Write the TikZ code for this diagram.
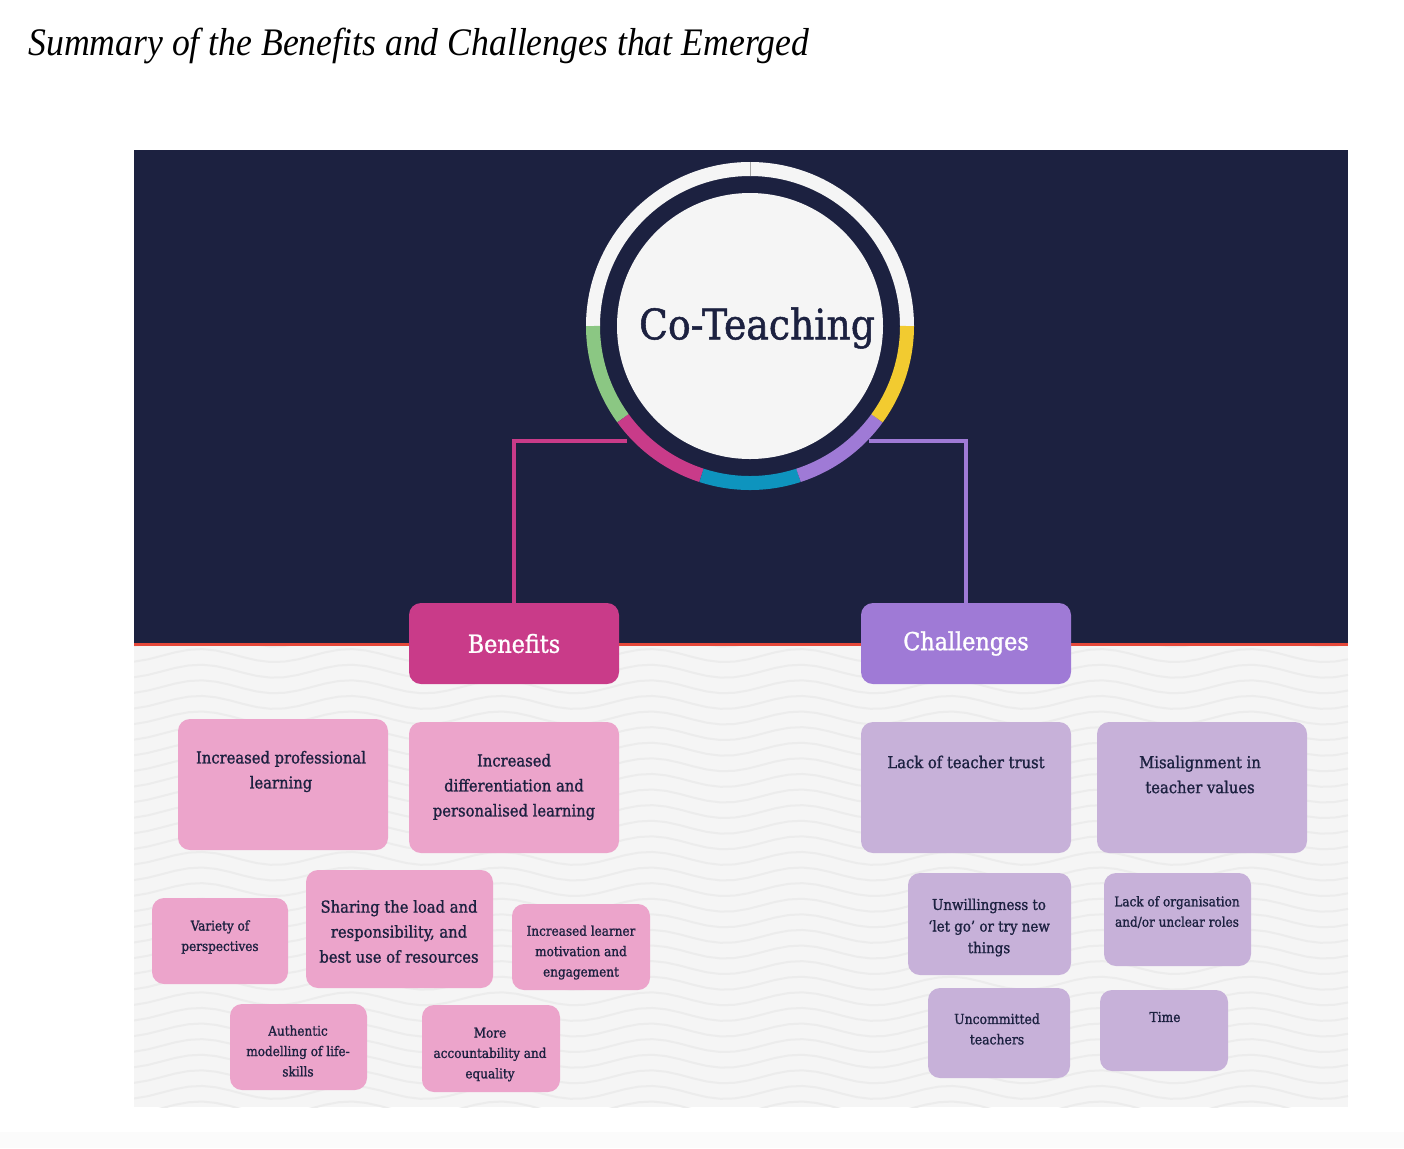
\documentclass[tikz,border=0pt]{standalone}
\usepackage{fontspec}
\newfontfamily\slab[AutoFakeBold=1.2]{DejaVu Serif Condensed}
\newfontfamily\headfont{Liberation Serif}
\definecolor{navy}{HTML}{1C2140}
\definecolor{ringw}{HTML}{F5F5F5}
\definecolor{paper}{HTML}{F5F5F5}
\definecolor{wavec}{HTML}{ECECEC}
\definecolor{foot}{HTML}{FBFBFB}
\definecolor{grn}{HTML}{8BC783}
\definecolor{mag}{HTML}{C93B89}
\definecolor{blu}{HTML}{0E94BE}
\definecolor{pur}{HTML}{9F7AD6}
\definecolor{yel}{HTML}{F2CB30}
\definecolor{redl}{HTML}{E5483A}
\definecolor{benpink}{HTML}{ECA4CB}
\definecolor{chalav}{HTML}{C7B1D9}
\tikzset{
  tile/.style={rounded corners=6pt, inner sep=0pt},
  ben/.style={tile, fill=benpink},
  cha/.style={tile, fill=chalav},
  headbox/.style={tile, minimum width=105pt, minimum height=40.5pt, text=white,
    font=\slab\bfseries\fontsize{12.4}{14}\selectfont},
  bigtxt/.style={align=center, text=navy, inner sep=0pt,
    font=\slab\bfseries\fontsize{8.2}{12.5}\selectfont},
  smtxt/.style={align=center, text=navy, inner sep=0pt,
    font=\slab\bfseries\fontsize{6.7}{10.2}\selectfont},
  ring/.style={line width=7pt},
  link/.style={line width=2pt},
  wave/.style={wavec, line width=1pt}
}
\begin{document}
\begin{tikzpicture}[x=0.5pt, y=0.5pt]
\useasboundingbox (0,0) rectangle (1404,-1148);
\fill[white] (0,0) rectangle (1404,-1148);
\fill[foot] (0,-1132) rectangle (1404,-1148);
\node[anchor=base west, inner sep=0pt, font=\headfont\itshape\fontsize{19.5}{22}\selectfont] (heading) at (28,-55)
  {\scalebox{0.915}[1]{Summary of the Benefits and Challenges that Emerged}};

% panel
\fill[navy] (134,-150) rectangle (1348,-644);
\fill[paper] (134,-644) rectangle (1348,-1107);
\begin{scope}
  \clip (134,-646) rectangle (1348,-1107);
  \foreach \k in {0,...,31}
    \draw[wave] plot[domain=134:1348, samples=90] (\x, {-640-15.6*\k+6.5*sin(2.4*\x-30)});
\end{scope}
\draw[redl, line width=1.5pt] (134,-644) -- (1348,-644);

% hub
\node[circle, fill=ringw, minimum size=133pt, inner sep=0pt] (core) at (750,-326) {};
\node[headbox, fill=mag] (ben) at (514,-643.5) {Benefits};
\node[headbox, fill=pur] (cha) at (966,-643.5) {Challenges};
\draw[link, mag] (core.center) ++(223:168) -| (ben.north);
\draw[link, pur] (core.center) ++(316:165) -| (cha.north);
\draw[ring, ringw] (core.center) ++(0:157) arc[start angle=0, end angle=180, radius=78.5pt];
\foreach \a/\c in {180/grn, 216/mag, 252/blu, 288/pur, 324/yel}
  \draw[ring, \c] (core.center) ++(\a:157) arc[start angle=\a, end angle=\a+36, radius=78.5pt];
\draw[gray!70, line width=0.4pt] (core.center) ++(90:150) -- ++(0,14);
\node[text=navy, font=\slab\bfseries\fontsize{21}{24}\selectfont] (cotxt) at (757,-328) {Co-Teaching};

% benefits
\node[ben, minimum width=105pt, minimum height=65.5pt] (b1) at (283,-784.5) {};
\node[ben, minimum width=105pt, minimum height=65.5pt] (b2) at (514,-787.5) {};
\node[ben, minimum width=68pt, minimum height=43pt] (b3) at (220,-941) {};
\node[ben, minimum width=93.5pt, minimum height=59pt] (b4) at (399.5,-929) {};
\node[ben, minimum width=69pt, minimum height=43pt] (b5) at (581,-947) {};
\node[ben, minimum width=68.5pt, minimum height=43pt] (b6) at (298.5,-1047) {};
\node[ben, minimum width=69pt, minimum height=43.5pt] (b7) at (491,-1048.5) {};
\node[bigtxt] (t1) at (281,-771.5) {Increased professional\\learning};
\node[bigtxt] (t2) at (514,-787) {Increased\\differentiation and\\personalised learning};
\node[smtxt] (t3) at (220,-937) {Variety of\\perspectives};
\node[bigtxt] (t4) at (399,-931.5) {Sharing the load and\\responsibility, and\\best use of resources};
\node[smtxt] (t5) at (581,-952.5) {Increased learner\\motivation and\\engagement};
\node[smtxt] (t6) at (298,-1051) {Authentic\\modelling of life-\\skills};
\node[smtxt] (t7) at (490,-1054.5) {More\\accountability and\\equality};

% challenges
\node[cha, minimum width=105pt, minimum height=65.5pt] (c1) at (966,-787.5) {};
\node[cha, minimum width=105pt, minimum height=65.5pt] (c2) at (1202,-787.5) {};
\node[cha, minimum width=81.5pt, minimum height=51pt] (c3) at (989.5,-924) {};
\node[cha, minimum width=73.5pt, minimum height=46.5pt] (c4) at (1177.5,-919.5) {};
\node[cha, minimum width=71pt, minimum height=45pt] (c5) at (999,-1033) {};
\node[cha, minimum width=64pt, minimum height=40.5pt] (c6) at (1164,-1030.5) {};
\node[bigtxt] (s1) at (966,-762) {Lack of teacher trust};
\node[bigtxt] (s2) at (1200,-774.5) {Misalignment in\\teacher values};
\node[smtxt, font=\slab\bfseries\fontsize{7.45}{10.8}\selectfont] (s3) at (989,-927.5) {Unwillingness to\\‘let go’ or try new\\things};
\node[smtxt] (s4) at (1177,-912) {Lack of organisation\\and/or unclear roles};
\node[smtxt, font=\slab\bfseries\fontsize{6.9}{10.2}\selectfont] (s5) at (997,-1029) {Uncommitted\\teachers};
\node[smtxt, font=\slab\bfseries\fontsize{6.8}{10.2}\selectfont] (s6) at (1165,-1017) {Time};
\end{tikzpicture}
\end{document}
